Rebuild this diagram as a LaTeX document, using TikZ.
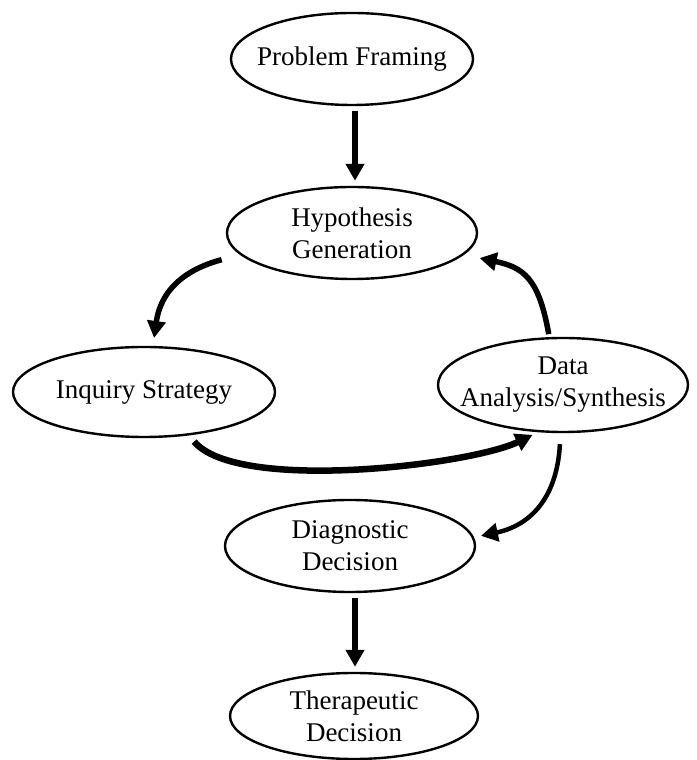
\documentclass[tikz,border=0pt]{standalone}
\usepackage{fontspec}
\setmainfont{Liberation Serif}
\usetikzlibrary{shapes.geometric,arrows.meta}

\tikzset{
  stage/.style={ellipse, draw, line width=2.4pt, inner xsep=-28pt, inner ysep=-16pt,
    align=center, font=\fontsize{27}{32}\selectfont},
  link/.style={line width=5.5pt, -{Triangle[length=17pt,width=18pt]}}
}

\begin{document}
\begin{tikzpicture}[x=1pt,y=1pt]

  \useasboundingbox (0,0) rectangle (696,760);

  % Stages of the process
  \node[stage, minimum width=242pt, minimum height=92pt] (frame) at (352,701) {Problem Framing};
  \node[stage, minimum width=250pt, minimum height=92pt] (hypo) at (352,527) {Hypothesis\\Generation};
  \node[stage, minimum width=262pt, minimum height=90pt] (inq) at (144,368) {Inquiry Strategy};
  \node[stage, minimum width=250pt, minimum height=94pt] (data) at (563,375) {Data\\Analysis/Synthesis};
  \node[stage, minimum width=250pt, minimum height=92pt] (diag) at (350,214) {Diagnostic\\Decision};
  \node[stage, minimum width=248pt, minimum height=86pt] (ther) at (354,44) {Therapeutic\\Decision};

  % Straight arrows
  \draw[link, shorten <=5pt, shorten >=5pt] ([xshift=3pt]frame.south) -- ([xshift=3pt]hypo.north);
  \draw[link, shorten <=5pt, shorten >=5pt] ([xshift=5pt]diag.south) -- ([xshift=1pt]ther.north);

  % Curved arrows round the loop
  \draw[link, shorten <=19pt, shorten >=8pt] (hypo.191) to[out=195, in=82, looseness=1.15] (inq.79);
  \draw[link, shorten <=3pt, shorten >=16pt] (data.106) to[out=100, in=-12, looseness=1.3] (hypo.-11);
  \draw[link, line width=6.5pt, shorten <=8pt, shorten >=6pt] (inq.-44) to[out=-50, in=206, looseness=0.55] (data.242);
  \draw[link, line width=4.5pt, shorten <=11pt, shorten >=7pt] (data.267) to[out=-93, in=12, looseness=1.15] (diag.4);

\end{tikzpicture}
\end{document}
